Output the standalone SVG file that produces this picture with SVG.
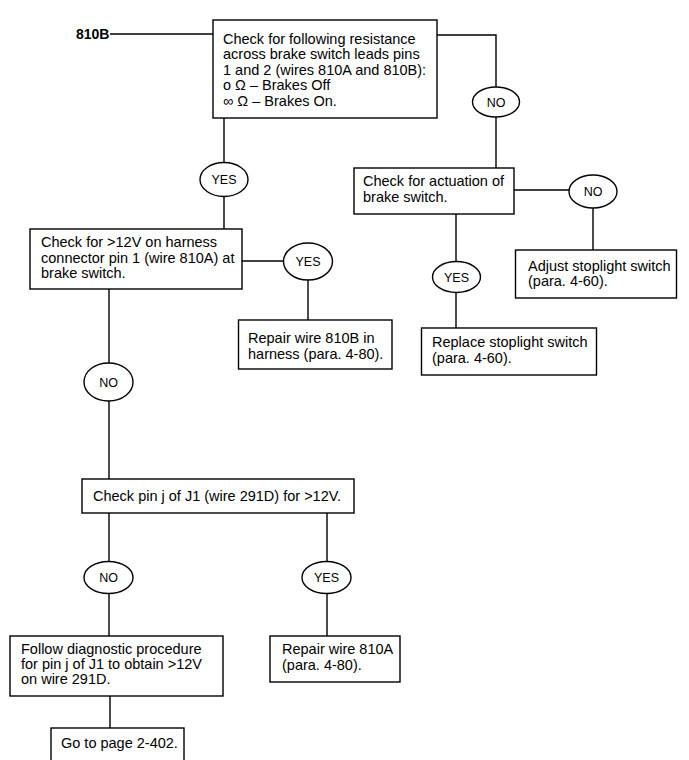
<svg xmlns="http://www.w3.org/2000/svg" width="689" height="760" viewBox="0 0 689 760">
<style>
.box{fill:#fff;stroke:#000;stroke-width:1.4}
.ov{fill:#fff;stroke:#000;stroke-width:1.4}
.t{font-family:"Liberation Sans",Arial,sans-serif;font-size:14.5px;fill:#000}
.o{font-family:"Liberation Sans",Arial,sans-serif;font-size:12.5px;fill:#000;text-anchor:middle}
.c{fill:none;stroke:#000;stroke-width:1.4}
</style>
<rect width="689" height="760" fill="#fff"/>
<g id="connectors">
<path class="c" d="M110,34 H213"/>
<path class="c" d="M437,35 H496 V87"/>
<path class="c" d="M496,117 V168"/>
<path class="c" d="M224,118 V162.5"/>
<path class="c" d="M224,196.5 V229"/>
<path class="c" d="M242,261 H283.5"/>
<path class="c" d="M308,280 V320"/>
<path class="c" d="M109,289 V363"/>
<path class="c" d="M109,401 V479"/>
<path class="c" d="M109,513 V561.5"/>
<path class="c" d="M109,593.5 V636"/>
<path class="c" d="M327,513 V561.5"/>
<path class="c" d="M327,593.5 V636"/>
<path class="c" d="M110,696 V728"/>
<path class="c" d="M514,190 H569"/>
<path class="c" d="M593,208 V250"/>
<path class="c" d="M456,214 V261.5"/>
<path class="c" d="M456,292.5 V328"/>
</g>
<g id="label810B"><text x="76" y="39" style="font-family:'Liberation Sans',Arial,sans-serif;font-size:14px;font-weight:bold">810B</text></g>
<g id="n1">
<rect class="box" x="213" y="20" width="224" height="98"/>
<text class="t" x="223" y="43.5">Check for following resistance</text>
<text class="t" x="223" y="59">across brake switch leads pins</text>
<text class="t" x="223" y="74.5">1 and 2 (wires 810A and 810B):</text>
<text class="t" x="223" y="90">o Ω – Brakes Off</text>
<text class="t" x="223" y="105.5">∞ Ω – Brakes On.</text>
</g>
<g id="yes1"><ellipse class="ov" cx="224" cy="179.5" rx="24" ry="17"/><text class="o" x="224" y="184">YES</text></g>
<g id="no1"><ellipse class="ov" cx="496" cy="102" rx="23.5" ry="15"/><text class="o" x="496" y="106.5">NO</text></g>
<g id="n2">
<rect class="box" x="30" y="229" width="212" height="60"/>
<text class="t" x="41" y="247">Check for &gt;12V on harness</text>
<text class="t" x="41" y="262.5">connector pin 1 (wire 810A) at</text>
<text class="t" x="41" y="278">brake switch.</text>
</g>
<g id="yes2"><ellipse class="ov" cx="308" cy="261.5" rx="24.5" ry="18.5"/><text class="o" x="308" y="266">YES</text></g>
<g id="n3">
<rect class="box" x="238.5" y="320" width="153.5" height="49"/>
<text class="t" x="248" y="343">Repair wire 810B in</text>
<text class="t" x="248" y="358.5">harness (para. 4-80).</text>
</g>
<g id="n4">
<rect class="box" x="354" y="168" width="160" height="46"/>
<text class="t" x="363" y="186">Check for actuation of</text>
<text class="t" x="363" y="201.5">brake switch.</text>
</g>
<g id="no3"><ellipse class="ov" cx="593" cy="191.5" rx="24" ry="16.5"/><text class="o" x="593" y="196">NO</text></g>
<g id="n5">
<rect class="box" x="515.5" y="250" width="161" height="48"/>
<text class="t" x="528" y="270.5">Adjust stoplight switch</text>
<text class="t" x="528" y="286">(para. 4-60).</text>
</g>
<g id="yes3"><ellipse class="ov" cx="456.5" cy="277" rx="24" ry="15.5"/><text class="o" x="456.5" y="281.5">YES</text></g>
<g id="n6">
<rect class="box" x="421.5" y="328" width="175" height="47"/>
<text class="t" x="432" y="347">Replace stoplight switch</text>
<text class="t" x="432" y="362.5">(para. 4-60).</text>
</g>
<g id="no2"><ellipse class="ov" cx="108.5" cy="382" rx="24.5" ry="19"/><text class="o" x="108.5" y="386.5">NO</text></g>
<g id="n7">
<rect class="box" x="82" y="479" width="272" height="34"/>
<text class="t" x="93" y="500.5">Check pin j of J1 (wire 291D) for &gt;12V.</text>
</g>
<g id="no4"><ellipse class="ov" cx="108.5" cy="577.5" rx="24.5" ry="16"/><text class="o" x="108.5" y="582">NO</text></g>
<g id="yes4"><ellipse class="ov" cx="326.5" cy="577.5" rx="24.5" ry="16"/><text class="o" x="326.5" y="582">YES</text></g>
<g id="n8">
<rect class="box" x="10" y="636" width="213" height="60"/>
<text class="t" x="21" y="654">Follow diagnostic procedure</text>
<text class="t" x="21" y="669">for pin j of J1 to obtain &gt;12V</text>
<text class="t" x="21" y="684">on wire 291D.</text>
</g>
<g id="n9">
<rect class="box" x="270" y="636" width="130" height="46"/>
<text class="t" x="282" y="654">Repair wire 810A</text>
<text class="t" x="282" y="669.5">(para. 4-80).</text>
</g>
<g id="n10">
<rect class="box" x="51" y="728" width="133" height="40"/>
<text class="t" x="61" y="748">Go to page 2-402.</text>
</g>
</svg>
